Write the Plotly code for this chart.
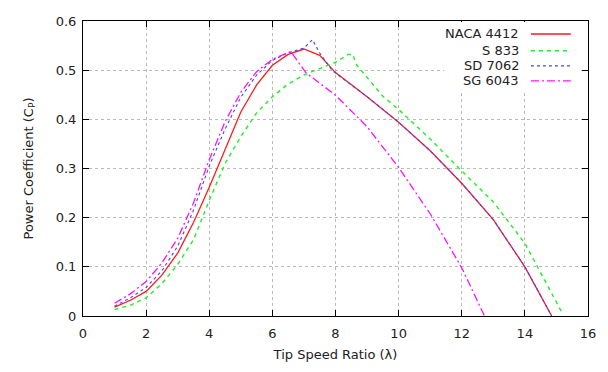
import plotly.graph_objects as go

# ---- data ----
naca_x = [1, 1.5, 2, 2.5, 3, 3.5, 4, 4.5, 5, 5.5, 6, 6.5, 7, 7.5, 8, 9, 10, 11, 12, 13, 14, 14.85]
naca_y = [0.018, 0.032, 0.05, 0.083, 0.128, 0.19, 0.262, 0.34, 0.415, 0.47, 0.51, 0.532, 0.543, 0.53, 0.495, 0.446, 0.394, 0.336, 0.27, 0.196, 0.1, 0.0]

s833_x = [1, 1.5, 2, 2.5, 3, 3.5, 4, 4.5, 5, 5.5, 6, 6.5, 7, 7.5, 8, 8.4, 8.55, 8.65, 9, 9.5, 10, 11, 12, 13, 14, 15.15]
s833_y = [0.013, 0.022, 0.037, 0.066, 0.105, 0.155, 0.235, 0.31, 0.365, 0.413, 0.446, 0.472, 0.49, 0.503, 0.516, 0.532, 0.532, 0.512, 0.485, 0.447, 0.42, 0.36, 0.295, 0.232, 0.148, 0.01]

sd7062_x = [1, 1.5, 2, 2.5, 3, 3.5, 4, 4.5, 5, 5.5, 6, 6.5, 7, 7.27, 7.5, 7.9, 9, 10, 11, 12, 13, 14, 14.85]
sd7062_y = [0.02, 0.037, 0.058, 0.092, 0.142, 0.215, 0.305, 0.38, 0.445, 0.49, 0.52, 0.535, 0.545, 0.562, 0.535, 0.499, 0.446, 0.394, 0.336, 0.27, 0.196, 0.1, 0.0]

sg6043_x = [1, 1.5, 2, 2.5, 3, 3.5, 4, 4.5, 5, 5.5, 6, 6.58, 7.06, 8, 9, 10, 11, 12, 12.72]
sg6043_y = [0.026, 0.045, 0.07, 0.108, 0.158, 0.23, 0.318, 0.395, 0.455, 0.497, 0.522, 0.538, 0.495, 0.449, 0.385, 0.302, 0.208, 0.098, 0.0]

series_names = ["NACA 4412", "S 833", "SD 7062", "SG 6043"]
series_colors = ["#ff1a1a", "#22ee22", "#4444ff", "#ff11ff"]
series_dash = ["solid", "4px,4px", "dot", "8px,3px,2px,3px"]
series_width = [1.3, 1.4, 1.1, 1.3]

x_ticks = [0, 2, 4, 6, 8, 10, 12, 14, 16]
y_ticks = [0, 0.1, 0.2, 0.3, 0.4, 0.5, 0.6]

xs = [naca_x, s833_x, sd7062_x, sg6043_x]
ys = [naca_y, s833_y, sd7062_y, sg6043_y]

fig = go.Figure()
for name, x, y, c, d, w in zip(series_names, xs, ys, series_colors, series_dash, series_width):
    fig.add_trace(go.Scatter(x=x, y=y, mode="lines", name=name,
                             line=dict(color=c, dash=d, width=w), showlegend=False))

font = dict(family="DejaVu Sans", size=13, color="#222222")

axis_common = dict(showline=True, linecolor="#000000", linewidth=1, mirror="ticks",
                   ticks="inside", ticklen=6, tickcolor="#000000", tickwidth=1,
                   showgrid=True, gridcolor="#bbbbbb", griddash="dot", gridwidth=1,
                   zeroline=False, tickfont=font)

fig.update_xaxes(range=[0, 16], tickvals=x_ticks, ticktext=[str(v) for v in x_ticks],
                 ticklabelstandoff=5,
                 title=dict(text="Tip Speed Ratio (λ)", font=font, standoff=10), **axis_common)
fig.update_yaxes(range=[0, 0.6], tickvals=y_ticks, ticktext=[("%g" % v) for v in y_ticks],
                 ticklabelstandoff=3,
                 title=dict(text="Power Coefficient (C<sub>P</sub>)", font=font, standoff=19), **axis_common)

# custom legend (text right-aligned, sample on the right, as in gnuplot)
shapes = [dict(type="rect", xref="paper", yref="paper", x0=0.715, x1=0.984, y0=0.766, y1=0.997,
               fillcolor="white", line=dict(width=0), layer="above")]
annotations = []
leg_y = [0.956, 0.899, 0.848, 0.797]
for name, c, d, w, yy in zip(series_names, series_colors, series_dash, series_width, leg_y):
    annotations.append(dict(xref="paper", yref="paper", x=0.868, y=yy, text=name,
                            showarrow=False, xanchor="right", yanchor="middle", font=font))
    shapes.append(dict(type="line", xref="paper", yref="paper", x0=0.887, x1=0.966, y0=yy, y1=yy,
                       line=dict(color=c, dash=d, width=w), layer="above"))

fig.update_layout(width=608, height=372, margin=dict(l=83, r=13, t=21, b=47),
                  plot_bgcolor="white", paper_bgcolor="white", font=font,
                  shapes=shapes, annotations=annotations)

fig.write_html("out.html", config={"displayModeBar": False},
               post_script="document.body.style.margin='0';document.body.style.overflow='hidden';"
                           "document.documentElement.style.overflow='hidden';")
